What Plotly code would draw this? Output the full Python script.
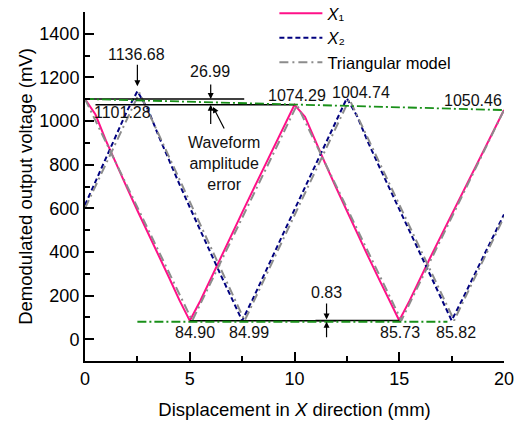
import plotly.graph_objects as go

# ---------------- data ----------------
x_mm = [0.0, 0.5, 1.0, 1.5, 2.0, 2.5, 3.0, 3.5, 4.0, 4.5, 5.0,
        5.5, 6.0, 6.5, 7.0, 7.5, 8.0, 8.5, 9.0, 9.5, 10.0,
        10.5, 11.0, 11.5, 12.0, 12.5, 13.0, 13.5, 14.0, 14.5, 15.0,
        15.5, 16.0, 16.5, 17.0, 17.5, 18.0, 18.5, 19.0, 19.5, 20.0]

x1_mv = [1101.28, 1030, 910, 800, 695, 590, 490, 390, 285, 180, 84.90,
         175, 278, 380, 480, 580, 680, 780, 880, 980, 1074.29,
         1020, 905, 798, 692, 587, 482, 382, 282, 180, 85.73,
         178, 280, 378, 475, 572, 668, 764, 860, 955, 1050.46]

x2_mv = [615, 722, 828, 934, 1045, 1136.68, 1055, 935, 820, 712, 605,
         498, 392, 290, 188, 84.99, 182, 288, 390, 492, 594,
         696, 798, 900, 1005, 1104.74, 1020, 905, 800, 698, 595,
         492, 390, 288, 185, 85.82, 180, 280, 378, 475, 572]

model1_x = [0, 5.12, 10.12, 15.1, 20]
model1_y = [1101.28, 84.90, 1074.29, 85.73, 1050.46]
model2_x = [0, 2.6, 7.62, 12.62, 17.62, 20]
model2_y = [600, 1130, 84.99, 1100, 85.82, 560]

top_env_x = [0, 20]
top_env_y = [1101.28, 1050.46]
bot_env_x = [2.5, 17.3]
bot_env_y = [80, 80]

ref_top1_x = [0, 7.6]
ref_top1_y = [1101.28, 1101.28]
ref_top2_x = [0.5, 10.0]
ref_top2_y = [1074.29, 1074.29]
ref_bot1_x = [5.0, 12.0]
ref_bot1_y = [84.90, 84.90]
ref_bot2_x = [11.0, 15.0]
ref_bot2_y = [85.73, 85.73]

# value labels: (text, x, y)
value_labels = [
    ("1136.68", 2.48, 1307), ("26.99", 5.97, 1225), ("1101.28", 1.77, 1037),
    ("1074.29", 10.12, 1119), ("1004.74", 13.17, 1133), ("1050.46", 18.52, 1092),
    ("84.90", 5.25, 32), ("84.99", 7.83, 32), ("85.73", 15.04, 32), ("85.82", 17.71, 32),
    ("0.83", 11.55, 216), ("Waveform<br>amplitude<br>error", 6.63, 807),
]
# arrows: (head_x, head_y, tail_x, tail_y)
arrows = [
    (2.5, 1160, 2.5, 1265),
    (6.0, 1101.28, 6.0, 1174),
    (6.0, 1074.29, 6.0, 980),
    (6.11, 1065, 6.68, 959),
    (11.53, 90, 11.53, 170),
    (11.53, 80, 11.53, 2),
]

FONT = "Arial, Liberation Sans, sans-serif"
PINK = "#FF1088"
NAVY = "#00007F"
GRAY = "#8C8C8C"
GREEN = "#199019"

fig = go.Figure()
fig.add_trace(go.Scatter(x=x_mm, y=x1_mv, mode="lines", name="<i>X</i>\u2081",
                         line=dict(color=PINK, width=2)))
fig.add_trace(go.Scatter(x=x_mm, y=x2_mv, mode="lines", name="<i>X</i>\u2082",
                         line=dict(color=NAVY, width=2, dash="5px,3px")))
fig.add_trace(go.Scatter(x=model1_x, y=model1_y, mode="lines", name="Triangular model",
                         line=dict(color=GRAY, width=2, dash="9px,4px,2px,4px")))
fig.add_trace(go.Scatter(x=model2_x, y=model2_y, mode="lines", showlegend=False,
                         line=dict(color=GRAY, width=2, dash="9px,4px,2px,4px")))

for xs, ys in [(ref_top1_x, ref_top1_y), (ref_top2_x, ref_top2_y),
               (ref_bot1_x, ref_bot1_y), (ref_bot2_x, ref_bot2_y)]:
    fig.add_trace(go.Scatter(x=xs, y=ys, mode="lines", showlegend=False,
                             line=dict(color="black", width=1.5)))
for xs, ys in [(top_env_x, top_env_y), (bot_env_x, bot_env_y)]:
    fig.add_trace(go.Scatter(x=xs, y=ys, mode="lines", showlegend=False,
                             line=dict(color=GREEN, width=1.8, dash="9px,3px,2px,3px")))

for t, x, y in value_labels:
    fig.add_annotation(x=x, y=y, text=t, showarrow=False,
                       font=dict(family=FONT, size=16, color="#111"))
for hx, hy, tx, ty in arrows:
    fig.add_annotation(x=hx, y=hy, ax=tx, ay=ty, axref="x", ayref="y", text="",
                       showarrow=True, arrowhead=2, arrowsize=1, arrowwidth=1.2,
                       arrowcolor="black")

fig.update_layout(
    width=518, height=423,
    margin=dict(l=85, r=14, t=0, b=62, autoexpand=False),
    paper_bgcolor="white", plot_bgcolor="white",
    font=dict(family=FONT, size=18, color="black"),
    legend=dict(x=0.452, y=1.011, xanchor="left", yanchor="top",
                bgcolor="rgba(0,0,0,0)", font=dict(size=16.5, family=FONT),
                tracegroupgap=0, itemwidth=43),
    xaxis=dict(range=[0, 20], tickvals=[0, 5, 10, 15, 20], ticks="inside", ticklen=9,
               tickwidth=2, tickcolor="black", showline=True, linewidth=2, linecolor="black",
               showgrid=False, zeroline=False, tickfont=dict(size=18), automargin=False,
               minor=dict(tickvals=[2.5, 7.5, 12.5, 17.5], ticks="inside", ticklen=5,
                          tickwidth=2, tickcolor="black"),
               title=dict(text="Displacement in <i>X</i> direction (mm)",
                          font=dict(size=18.5), standoff=15)),
    yaxis=dict(range=[-100, 1500], domain=[0, 349 / 361],
               tickvals=[0, 200, 400, 600, 800, 1000, 1200, 1400],
               ticks="inside", ticklen=9, tickwidth=2, tickcolor="black",
               showline=True, linewidth=2, linecolor="black", automargin=False,
               showgrid=False, zeroline=False, tickfont=dict(size=18),
               minor=dict(tickvals=[100, 300, 500, 700, 900, 1100, 1300, 1500],
                          ticks="inside", ticklen=5, tickwidth=2, tickcolor="black"),
               title=dict(text="Demodulated output voltage (mV)",
                          font=dict(size=18.5), standoff=2)),
)

fig.write_html("out.html")
